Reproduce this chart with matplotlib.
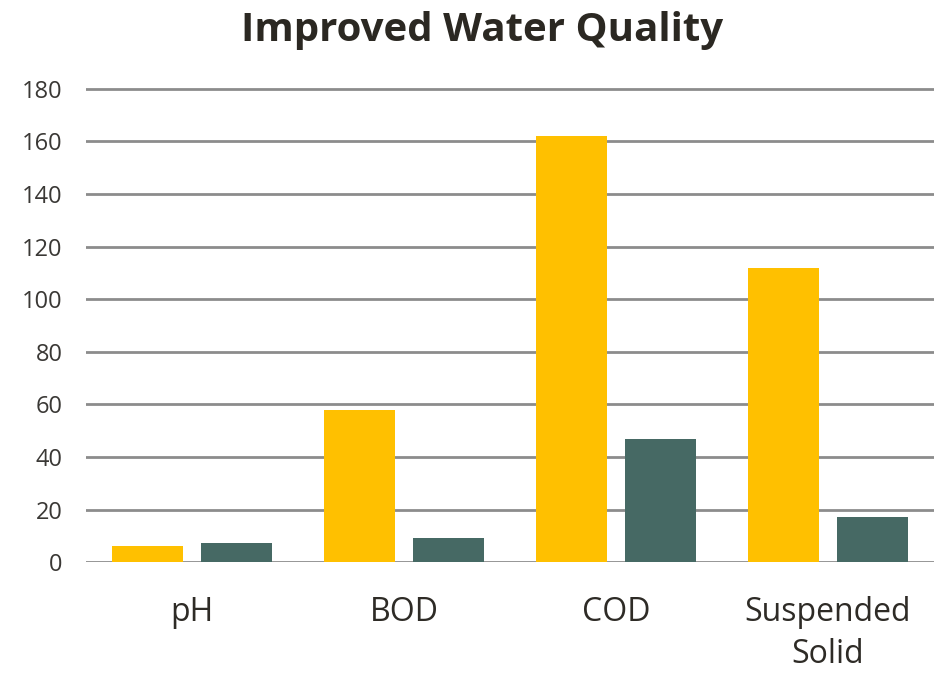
import matplotlib
matplotlib.use("Agg")
import numpy as np
import matplotlib.pyplot as plt

# data
categories = ["pH", "BOD", "COD", "Suspended\nSolid"]
before = [6.3, 57.8, 161.9, 111.7]
after = [7.2, 9.1, 46.7, 17.3]
yticks = [0, 20, 40, 60, 80, 100, 120, 140, 160, 180]

plt.rcParams['font.family'] = ['Open Sans', 'DejaVu Sans']

fig = plt.figure(figsize=(9.41, 6.78), dpi=100)
ax = fig.add_axes([0.0914, 0.1706, 0.901, 0.7025])

x = np.arange(len(categories))
w = 0.335
ax.bar(x - 0.209, before, w, color="#FFC000", zorder=3)
ax.bar(x + 0.209, after, w, color="#466964", zorder=3)

ax.set_xlim(-0.5, len(categories) - 0.5)
ax.set_ylim(0, 181)
ax.set_yticks(yticks)
ax.set_xticks(x)
ax.set_xticklabels(categories, fontsize=23, color="#2e2b26", linespacing=1.38)
ax.tick_params(axis='x', length=0, pad=24)
ax.tick_params(axis='y', length=0, pad=17, labelsize=17, labelcolor="#3a3835")

ax.grid(axis='y', color="#8c8c8c", linewidth=2, zorder=0)
for s in ax.spines.values():
    s.set_visible(False)

fig.text(0.512, 0.955, "Improved Water Quality", ha="center", va="center",
         fontsize=29, fontweight="bold", color="#2b2822")

fig.savefig("out.png", dpi=100)
